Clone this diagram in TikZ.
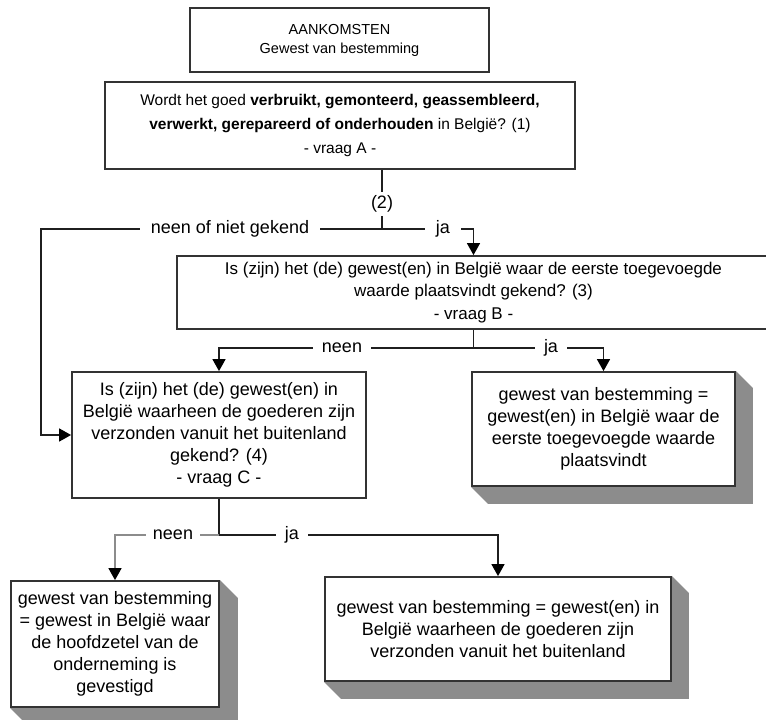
\documentclass[tikz,border=0pt]{standalone}
\usepackage{fontspec}
\setmainfont{Liberation Sans}
\usetikzlibrary{arrows.meta,backgrounds}
\begin{document}
\begin{tikzpicture}[x=1pt,y=-1pt,
 box/.style={draw=black!80, line width=1.8pt, fill=white, align=center, inner sep=0pt, font=\fontsize{18}{22}\selectfont},
 conn/.style={line width=1.4pt, draw=black!88},
 arr/.style={conn, -{Triangle[width=13pt,length=12pt,color=black]}},
 lbl/.style={fill=white, inner xsep=9pt, inner ysep=2pt, font=\fontsize{18}{22}\selectfont},
 shd/.style={fill=black!45, draw=none}]
\useasboundingbox (0,0) rectangle (766,720);
\begin{scope}[on background layer]
\fill[white] (0,0) rectangle (766,720);
\end{scope}

% boxes
\node[box, minimum width=299pt, minimum height=64pt, font=\fontsize{14.5}{19}\selectfont] (T) at (339.5,40) {AANKOMSTEN\\Gewest van bestemming};
\node[box, minimum width=470pt, minimum height=87pt, font=\fontsize{15.5}{24}\selectfont] (A) at (340,125.5)
 {Wordt het goed \textbf{verbruikt, gemonteerd, geassembleerd,}\\\textbf{verwerkt, gerepareerd of onderhouden} in België? (1)\\- vraag A -};
\node[box, minimum width=593pt, minimum height=73pt, font=\fontsize{17}{22.5}\selectfont] (B) at (473.5,292.5)
 {Is (zijn) het (de) gewest(en) in België waar de eerste toegevoegde\\waarde plaatsvindt gekend? (3)\\- vraag B -};
\node[box, minimum width=294pt, minimum height=126pt] (C) at (219,435)
 {Is (zijn) het (de) gewest(en) in\\België waarheen de goederen zijn\\verzonden vanuit het buitenland\\gekend? (4)\\- vraag C -};
\node[box, minimum width=263pt, minimum height=114pt] (D) at (603.5,429)
 {gewest van bestemming =\\gewest(en) in België waar de\\eerste toegevoegde waarde\\plaatsvindt};
\node[box, minimum width=208pt, minimum height=126pt] (E) at (115,644)
 {gewest van bestemming\\= gewest in België waar\\de hoofdzetel van de\\onderneming is\\gevestigd};
\node[box, minimum width=346pt, minimum height=104pt] (F) at (498,629)
 {gewest van bestemming = gewest(en) in\\België waarheen de goederen zijn\\verzonden vanuit het buitenland};

% shadows
\begin{scope}[on background layer]
\foreach \b/\d in {D/17,E/18,F/17}{
 \fill[shd] (\b.north east) -- ([shift={(\d,\d)}]\b.north east) -- ([shift={(\d,\d)}]\b.south east)
   -- ([shift={(\d,\d)}]\b.south west) -- (\b.south west) -- cycle;
}
\end{scope}

% junctions
\coordinate (j1) at (382,229);
\coordinate (k1) at (41,229);
\coordinate (j2) at (473.5,348);
\coordinate (j3) at (219,535);

% connectors
\draw[conn] (A.south -| j1) -- (j1);
\draw[arr] (j1) -- (k1) |- (C.west);
\draw[arr] (j1) -| (B.north);
\draw[conn] (B.south) -- (j2);
\draw[arr] (j2) -| (C.north);
\draw[arr] (j2) -| (D.north);
\draw[conn] (C.south) -- (j3);
\draw[arr, draw=black!45] (j3) -| (E.north);
\draw[arr] (j3) -| (F.north);

% labels
\node[lbl, inner xsep=2pt, inner ysep=4pt] (l0) at (382,204) {(2)};
\node[lbl, inner xsep=11pt] (l1) at (230,229) {neen of niet gekend};
\node[lbl, inner xsep=11pt] (l2) at (443,229) {ja};
\node[lbl] (l3) at (342,348) {neen};
\node[lbl] (l4) at (551,348) {ja};
\node[lbl, inner xsep=7pt] (l5) at (173,535) {neen};
\node[lbl] (l6) at (292,535) {ja};
\end{tikzpicture}
\end{document}
